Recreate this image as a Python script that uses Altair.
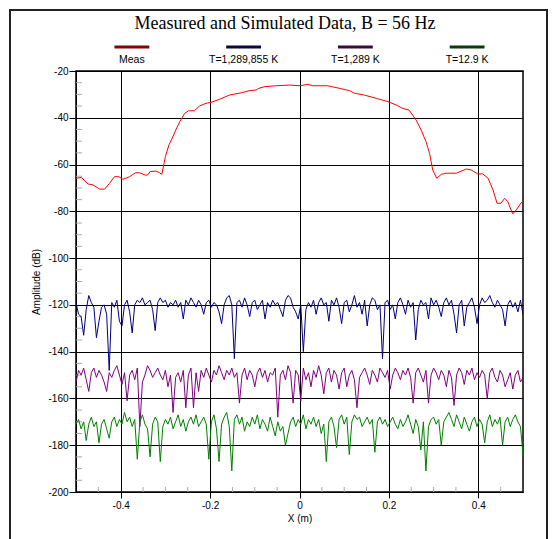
import altair as alt
import numpy as np
import pandas as pd

# ---------------- data ----------------
series_names = ["Meas", "T=1,289,855 K", "T=1,289 K", "T=12.9 K"]
line_colors = ["#ff0000", "#000080", "#800080", "#008000"]
legend_colors = ["#7a0a0a", "#0a0a40", "#3a0a3a", "#0a3a0a"]

meas_x = [-0.5, -0.488, -0.473, -0.462, -0.447, -0.436, -0.425, -0.414, -0.404, -0.395,
          -0.38, -0.367, -0.358, -0.345, -0.34, -0.334, -0.321, -0.313, -0.308, -0.3,
          -0.292, -0.285, -0.276, -0.268, -0.257, -0.248, -0.235, -0.224, -0.209, -0.198,
          -0.179, -0.157, -0.13, -0.112, -0.097, -0.091, -0.078, -0.052, -0.022, 0.0,
          0.019, 0.03, 0.063, 0.089, 0.112, 0.123, 0.145, 0.172, 0.198, 0.216,
          0.231, 0.245, 0.261, 0.272, 0.283, 0.291, 0.298, 0.307, 0.317, 0.328,
          0.351, 0.373, 0.384, 0.399, 0.41, 0.422, 0.433, 0.442, 0.451, 0.459,
          0.466, 0.477, 0.485, 0.496, 0.5]
meas_y = [-65.9, -65.5, -68.3, -68.7, -70.5, -70.5, -68.0, -65.2, -65.2, -66.3,
          -65.2, -63.5, -63.5, -64.5, -64.5, -63.0, -62.8, -63.5, -64.2, -56.6,
          -51.6, -48.8, -44.9, -41.7, -38.1, -37.0, -37.0, -35.0, -33.8, -33.4,
          -32.1, -30.3, -29.3, -28.4, -28.1, -27.4, -26.7, -26.3, -26.0, -26.3,
          -25.7, -26.3, -26.3, -27.4, -28.4, -29.5, -30.3, -31.7, -33.1, -34.5,
          -36.0, -36.7, -41.0, -45.2, -50.2, -55.2, -62.3, -65.9, -64.2, -63.7,
          -63.7, -61.9, -62.3, -64.0, -64.0, -65.9, -70.9, -76.6, -76.5, -74.4,
          -75.9, -81.1, -79.4, -76.3, -75.6]

blue_y = [-119, -124, -125, -133, -122, -116, -119, -121, -134, -127,
          -121, -120, -124, -148, -119, -121, -118, -127, -129, -120,
          -118, -123, -132, -120, -118, -119, -117, -120, -119, -118,
          -122, -131, -119, -117, -119, -118, -121, -119, -120, -118,
          -121, -119, -126, -118, -120, -117, -119, -121, -118, -120,
          -124, -119, -118, -121, -119, -120, -123, -128, -120, -117,
          -116, -120, -143, -119, -118, -121, -117, -120, -125, -119,
          -118, -122, -120, -118, -126, -119, -121, -118, -120, -119,
          -122, -125, -118, -116, -117, -121, -123, -126, -120, -140,
          -122, -119, -121, -118, -124, -119, -117, -120, -119, -127,
          -118, -120, -117, -121, -128, -119, -118, -123, -120, -116,
          -121, -119, -124, -118, -129, -120, -117, -118, -122, -120,
          -143, -119, -118, -122, -120, -126, -119, -117, -120, -124,
          -118, -121, -119, -135, -122, -118, -120, -119, -126, -117,
          -120, -118, -121, -125, -119, -117, -120, -118, -124, -132,
          -120, -118, -129, -121, -119, -117, -121, -128, -120, -117,
          -119, -118, -116, -119, -121, -118, -120, -122, -129, -120,
          -118, -121, -119, -123, -118, -124]

purple_y = [-153, -148, -150, -147, -152, -157, -149, -147, -151, -148,
            -150, -153, -157, -149, -151, -148, -146, -150, -154, -149,
            -161, -150, -148, -152, -147, -172, -153, -150, -146, -148,
            -151, -149, -147, -150, -152, -148, -155, -150, -166, -151,
            -149, -153, -148, -164, -150, -147, -164, -149, -157, -148,
            -151, -147, -150, -153, -148, -150, -146, -149, -152, -148,
            -150, -147, -151, -149, -162, -150, -147, -152, -148, -150,
            -155, -149, -147, -151, -148, -153, -149, -150, -147, -168,
            -150, -148, -152, -146, -149, -162, -148, -150, -161, -147,
            -152, -149, -155, -148, -151, -146, -150, -158, -149, -147,
            -153, -148, -150, -156, -149, -147, -155, -150, -148, -152,
            -164, -151, -149, -147, -150, -154, -148, -150, -153, -147,
            -149, -151, -148, -156, -150, -147, -149, -152, -148, -150,
            -147, -151, -162, -149, -147, -150, -153, -148, -162, -150,
            -147, -149, -152, -148, -150, -155, -148, -151, -163, -150,
            -147, -149, -154, -148, -150, -147, -152, -149, -151, -148,
            -150, -160, -149, -147, -151, -153, -148, -150, -155, -152,
            -149, -156, -150, -148, -153, -151]

green_y = [-171, -169, -173, -170, -178, -171, -168, -172, -170, -179,
           -171, -169, -173, -177, -170, -168, -172, -169, -171, -166,
           -170, -168, -172, -169, -186, -170, -167, -171, -173, -185,
           -171, -168, -170, -187, -172, -169, -171, -168, -173, -170,
           -167, -172, -169, -174, -170, -168, -171, -167, -172, -170,
           -168, -171, -186, -170, -167, -173, -187, -171, -168, -166,
           -172, -191, -169, -167, -171, -168, -174, -170, -172, -168,
           -171, -167, -173, -169, -171, -174, -168, -172, -176, -170,
           -174, -172, -180, -175, -170, -168, -172, -169, -171, -167,
           -173, -169, -171, -168, -172, -169, -175, -171, -187, -170,
           -168, -172, -181, -169, -167, -171, -168, -184, -170, -167,
           -169, -168, -172, -170, -168, -171, -169, -183, -170, -168,
           -171, -169, -172, -170, -168, -171, -173, -169, -172, -170,
           -167, -171, -175, -169, -172, -182, -170, -191, -172, -169,
           -168, -171, -169, -180, -170, -168, -166, -169, -172, -167,
           -170, -173, -168, -171, -174, -170, -168, -172, -169, -171,
           -179, -170, -167, -172, -169, -171, -168, -180, -170, -168,
           -172, -169, -167, -170, -172, -184]

x_ticks = [-0.4, -0.2, 0, 0.2, 0.4]
y_ticks = [-200, -180, -160, -140, -120, -100, -80, -60, -40, -20]
x_minor = [-0.45, -0.35, -0.3, -0.25, -0.15, -0.1, -0.05, 0.05, 0.1, 0.15, 0.25, 0.3, 0.35, 0.45]
y_minor = [v for v in range(-195, -20, 5) if v % 20 != 0]
legend_centers = [-0.375, -0.125, 0.125, 0.375]
legend_halfwidth = 0.039

# ---------------- tables ----------------
rows = []
for xv, yv in zip(meas_x, meas_y):
    rows.append({"series": series_names[0], "x": xv, "y": yv, "col": line_colors[0]})
for k, ys in enumerate([blue_y, purple_y, green_y], start=1):
    xs = np.linspace(-0.5, 0.5, len(ys))
    for xv, yv in zip(xs, ys):
        rows.append({"series": series_names[k], "x": float(xv), "y": yv, "col": line_colors[k]})
df = pd.DataFrame(rows)

leg = pd.DataFrame({
    "name": series_names,
    "c": legend_centers,
    "x1": [c - legend_halfwidth for c in legend_centers],
    "x2": [c + legend_halfwidth for c in legend_centers],
    "col": legend_colors,
})

W, H = 447, 421
FONT = "Liberation Sans"

xscale = alt.Scale(domain=[-0.5, 0.5], nice=False, zero=False)
yscale = alt.Scale(domain=[-200, -20], nice=False, zero=False)
xaxis = alt.Axis(values=x_ticks, title="X (m)", labelExpr="'' + datum.value",
                 tickSize=6, labelPadding=2, titlePadding=3, labelFlush=False)
yaxis = alt.Axis(values=y_ticks, title="Amplitude (dB)", labelExpr="'' + datum.value",
                 tickSize=7, labelPadding=1, titlePadding=6)

frame = alt.Chart(alt.Data(values=[{}])).mark_rect(
    filled=False, stroke="#222222", strokeWidth=2
).encode(x=alt.value(-66), x2=alt.value(471), y=alt.value(-61), y2=alt.value(520))

minor_x = alt.Chart(pd.DataFrame({"mx": x_minor})).mark_rule(color="#aaaaaa").encode(
    x=alt.X("mx:Q", scale=xscale, axis=xaxis),
    y=alt.value(H), y2=alt.value(H - 5),
)
minor_y = alt.Chart(pd.DataFrame({"my": y_minor})).mark_rule(color="#aaaaaa").encode(
    y=alt.Y("my:Q", scale=yscale, axis=yaxis),
    x=alt.value(0), x2=alt.value(6),
)

lines = alt.Chart(df).mark_line(strokeWidth=1, clip=True).encode(
    x=alt.X("x:Q", scale=xscale, axis=xaxis),
    y=alt.Y("y:Q", scale=yscale, axis=yaxis),
    color=alt.Color("col:N", scale=None),
    detail="series:N",
)

leg_seg = alt.Chart(leg).mark_rule(strokeWidth=3).encode(
    x=alt.X("x1:Q", scale=xscale, axis=xaxis),
    x2="x2:Q",
    y=alt.value(-24),
    color=alt.Color("col:N", scale=None),
)
leg_txt = alt.Chart(leg).mark_text(font=FONT, fontSize=10.5, color="black",
                                   baseline="middle", align="center").encode(
    x=alt.X("c:Q", scale=xscale, axis=xaxis),
    y=alt.value(-11),
    text="name:N",
)
title_txt = alt.Chart(alt.Data(values=[{"t": "Measured and Simulated Data,  B = 56 Hz"}])).mark_text(
    font="Liberation Serif", fontSize=18, color="black", baseline="middle", align="center"
).encode(x=alt.value(209), y=alt.value(-47), text="t:N")

chart = alt.layer(frame, minor_x, minor_y, lines, leg_seg, leg_txt, title_txt).properties(
    width=W, height=H,
    autosize=alt.AutoSizeParams(type="none"),
    padding={"left": 68, "top": 63, "right": 27, "bottom": 47},
    background="white",
).configure_view(
    stroke="black", strokeWidth=1.5
).configure_axis(
    grid=True, gridColor="black", gridOpacity=1, gridWidth=1,
    domainColor="black", tickColor="black",
    labelColor="black", labelFont=FONT, labelFontSize=10,
    titleColor="black", titleFont=FONT, titleFontSize=10, titleFontWeight="normal",
)

chart.save("out.html", embed_options={"renderer": "svg", "actions": False})
